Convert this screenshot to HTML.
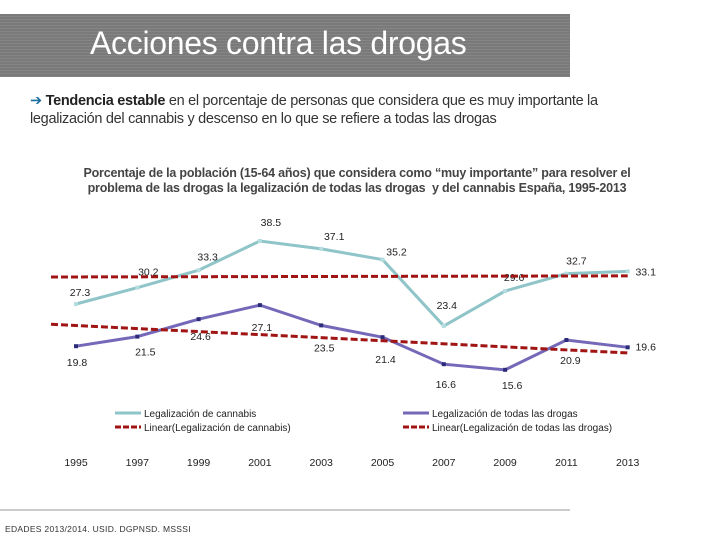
<!DOCTYPE html>
<html><head><meta charset="utf-8"><style>
body{margin:0;width:720px;height:540px;background:#fff;font-family:"Liberation Sans",sans-serif;position:relative;overflow:hidden}
.banner{position:absolute;left:0;top:14px;width:570px;height:63px;background:repeating-linear-gradient(#7a7a7a 0,#7a7a7a 2px,#858585 2px,#858585 3px)}
.banner h1{margin:0;position:absolute;left:90px;top:11px;font-weight:normal;color:#fff;font-size:32px;letter-spacing:-0.3px}
.intro{position:absolute;left:30px;top:92px;font-size:14.5px;color:#333;line-height:18px;letter-spacing:-0.3px}
.intro b{color:#222}
.ctitle{position:absolute;left:0;width:714px;top:166px;text-align:center;font-size:12.5px;font-weight:bold;color:#444;line-height:15px;letter-spacing:-0.2px}
svg{position:absolute;left:0;top:0}
.src{position:absolute;left:5px;top:524px;font-size:8.5px;color:#333;letter-spacing:0.3px}
</style></head><body>
<div class="banner"><h1>Acciones contra las drogas</h1></div>
<div class="intro"><span style="color:#1a6fa0">➔</span> <b>Tendencia estable</b> en el porcentaje de personas que considera que es muy importante la<br>legalización del cannabis y descenso en lo que se refiere a todas las drogas</div>
<div class="ctitle">Porcentaje de la población (15-64 años) que considera como “muy importante” para resolver el<br>problema de las drogas la legalización de todas las drogas&nbsp; y del cannabis España, 1995-2013</div>
<svg id="chart" width="720" height="540"></svg>
<div class="src">EDADES 2013/2014. USID. DGPNSD. MSSSI</div>
<script>
const years=["1995","1997","1999","2001","2003","2005","2007","2009","2011","2013"];
const cannabis=[27.3,30.2,33.3,38.5,37.1,35.2,23.4,29.6,32.7,33.1];
const drugs=[19.8,21.5,24.6,27.1,23.5,21.4,16.6,15.6,20.9,19.6];
const cannabisTrend=[32.1,32.3];
const drugsTrend=[23.7,18.6];
const cLabOff=[[4,-12],[11,-16],[9,-14],[11,-19],[13,-13],[14,-8],[3,-21],[9,-14],[10,-13],[18,0]];
const dLabOff=[[1,16],[8,15],[2,17],[2,22],[3,22],[3,22],[2,20],[7,15],[4,20],[18,-1]];
const svg=document.getElementById('chart');
const NS='http://www.w3.org/2000/svg';
const x=i=>76+i*61.3;
const y=v=>304-(v-27.3)*5.625;
function mk(t,a){const e=document.createElementNS(NS,t);for(const k in a)e.setAttribute(k,a[k]);svg.appendChild(e);return e;}
let e;
e=mk('line',{x1:0,y1:510,x2:570,y2:510,stroke:'#999','stroke-width':1});


function trend(arr,name){
  const l=mk('line',{x1:x(0)-25,y1:y(arr[0]),x2:x(years.length-1),y2:y(arr[1]),stroke:'#a01414','stroke-width':3,'stroke-dasharray':'7,3'});
  
  
}
function series(vals,color,name,marker,off){
  const p=mk('polyline',{points:vals.map((v,i)=>x(i)+','+y(v)).join(' '),fill:'none',stroke:color,'stroke-width':3});
  
  
  vals.forEach((v,i)=>{
    const m=mk('rect',{x:x(i)-2,y:y(v)-2,width:4,height:4,fill:marker});
    
    
    const t=mk('text',{x:x(i)+off[i][0],y:y(v)+off[i][1]+4,'font-size':10.5,'text-anchor':'middle',fill:'#222'});
    t.textContent=v.toFixed(1);
    
    
  });
}
series(cannabis,'#8fc5c8','cannabis','#b5dde0',cLabOff);
series(drugs,'#7469b8','drugs','#2c2c7a',dLabOff);
trend(cannabisTrend,'cannabis-trendline');
trend(drugsTrend,'drugs-trendline');
years.forEach((yr,i)=>{
  const t=mk('text',{x:x(i),y:466,'font-size':10.5,'text-anchor':'middle',fill:'#222'});
  t.textContent=yr;
  
  
});
const legend=[[115,413,'#8fc5c8',0,'Legalización de cannabis'],[115,427,'#a01414',1,'Linear(Legalización de cannabis)'],[403,413,'#7469b8',0,'Legalización de todas las drogas'],[403,427,'#a01414',1,'Linear(Legalización de todas las drogas)']];
legend.forEach(l=>{
  const ln=mk('line',{x1:l[0],y1:l[1],x2:l[0]+26,y2:l[1],stroke:l[2],'stroke-width':3,'stroke-dasharray':l[3]?'6,2':'none'});
  
  
  const t=mk('text',{x:l[0]+29,y:l[1]+4,'font-size':10,fill:'#222'});
  t.textContent=l[4];
  
  
});
</script>
</body></html>
